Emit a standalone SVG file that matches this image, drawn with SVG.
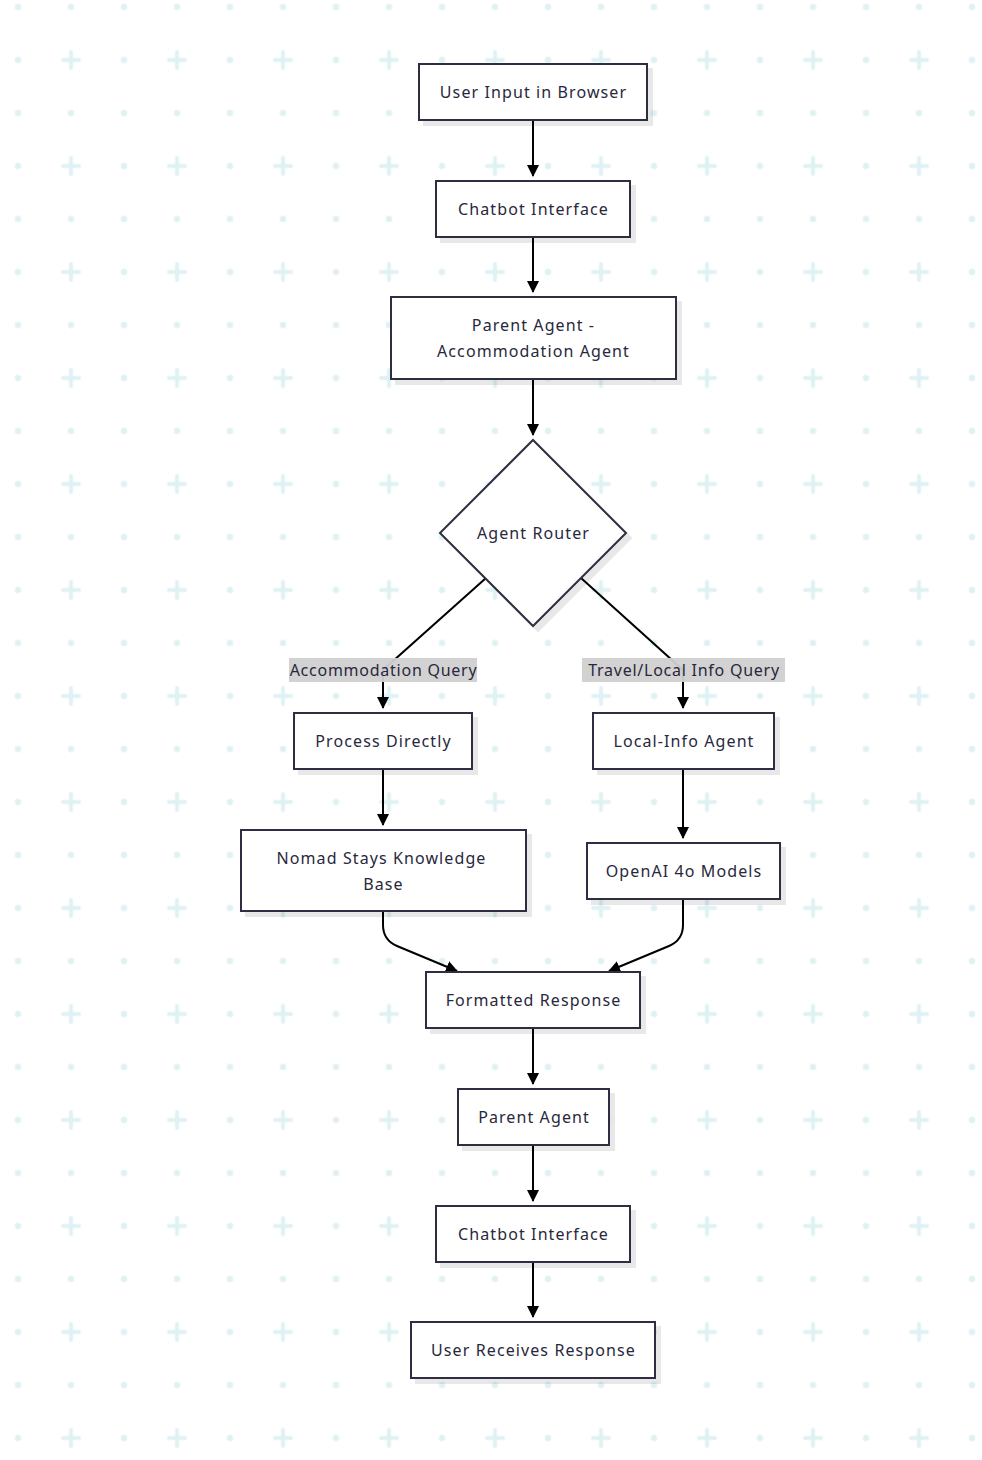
<svg xmlns="http://www.w3.org/2000/svg" width="982" height="1460" viewBox="0 0 982 1460">
<defs>
<pattern id="bg" patternUnits="userSpaceOnUse" x="-8.5" y="-19.5" width="106" height="106">
<circle cx="26.5" cy="26.5" r="3.2" fill="#dff1f3"/>
<circle cx="79.5" cy="26.5" r="3.2" fill="#dff1f3"/>
<circle cx="26.5" cy="79.5" r="3.2" fill="#dff1f3"/>
<path d="M71.5 79.5h16M79.5 71.5v16" stroke="#dff1f3" stroke-width="4" stroke-linecap="round"/>
</pattern>
<filter id="sh" x="-10%" y="-10%" width="130%" height="140%">
<feDropShadow dx="5" dy="5" stdDeviation="0.6" flood-color="#000" flood-opacity="0.09"/>
</filter>
<marker id="ah" viewBox="0 0 12 12" refX="11" refY="6" markerWidth="12" markerHeight="12" markerUnits="userSpaceOnUse" orient="auto">
<path d="M0 0L12 6L0 12z" fill="#000"/>
</marker>
<style>
.n rect,.n polygon{fill:#fff;stroke:#2e2e42;stroke-width:2;filter:url(#sh)}
.n text,.lb text{font-family:"Noto Sans","Open Sans",sans-serif;font-size:16px;fill:#28283c;text-anchor:middle;dominant-baseline:central;letter-spacing:1.1px}
.lb text{letter-spacing:0.75px}
.e path{fill:none;stroke:#000;stroke-width:2;marker-end:url(#ah)}
.lb rect{fill:#d0d0d0;opacity:0.95}
</style>
</defs>
<rect width="982" height="1460" fill="#fff"/>
<rect width="982" height="1460" fill="url(#bg)"/>

<g id="connectors" class="e">
<path d="M533 120V176"/>
<path d="M533 237V292"/>
<path d="M533 379V435"/>
<path d="M486 578L383 670V708"/>
<path d="M581 578L683 670V708"/>
<path d="M383 769V825"/>
<path d="M683 769V838"/>
<path d="M383 911V925Q383 940 397 946L457 971"/>
<path d="M683 899V925Q683 940 669 946L609 971"/>
<path d="M533 1028V1084"/>
<path d="M533 1145V1201"/>
<path d="M533 1262V1317"/>
</g>

<g id="label-accommodation" class="lb">
<rect x="289" y="658" width="188" height="24"/>
<text x="383.5" y="670">Accommodation Query</text>
</g>
<g id="label-travel" class="lb">
<rect x="582" y="658" width="203" height="24"/>
<text x="684" y="670">Travel/Local Info Query</text>
</g>

<g id="n-user-input" class="n">
<rect x="419" y="64" width="228" height="56"/>
<text x="533.5" y="92">User Input in Browser</text>
</g>
<g id="n-chatbot1" class="n">
<rect x="436" y="181" width="194" height="56"/>
<text x="533.5" y="209">Chatbot Interface</text>
</g>
<g id="n-parent-accom" class="n">
<rect x="391" y="297" width="285" height="82"/>
<text x="533.5" y="325">Parent Agent -</text>
<text x="533.5" y="351">Accommodation Agent</text>
</g>
<g id="n-router" class="n">
<polygon points="533,440 626,533 533,626 440,533"/>
<text x="533.5" y="533">Agent Router</text>
</g>
<g id="n-process" class="n">
<rect x="294" y="713" width="178" height="56"/>
<text x="383.5" y="741">Process Directly</text>
</g>
<g id="n-local-info" class="n">
<rect x="593" y="713" width="181" height="56"/>
<text x="684" y="741">Local-Info Agent</text>
</g>
<g id="n-nomad" class="n">
<rect x="241" y="830" width="285" height="81"/>
<text x="381.5" y="858">Nomad Stays Knowledge</text>
<text x="383.5" y="884">Base</text>
</g>
<g id="n-openai" class="n">
<rect x="587" y="843" width="193" height="56"/>
<text x="684" y="871">OpenAI 4o Models</text>
</g>
<g id="n-formatted" class="n">
<rect x="426" y="972" width="214" height="56"/>
<text x="533.5" y="1000">Formatted Response</text>
</g>
<g id="n-parent" class="n">
<rect x="458" y="1089" width="151" height="56"/>
<text x="534" y="1117">Parent Agent</text>
</g>
<g id="n-chatbot2" class="n">
<rect x="436" y="1206" width="194" height="56"/>
<text x="533.5" y="1234">Chatbot Interface</text>
</g>
<g id="n-user-receives" class="n">
<rect x="411" y="1322" width="244" height="56"/>
<text x="533.5" y="1350">User Receives Response</text>
</g>
</svg>
